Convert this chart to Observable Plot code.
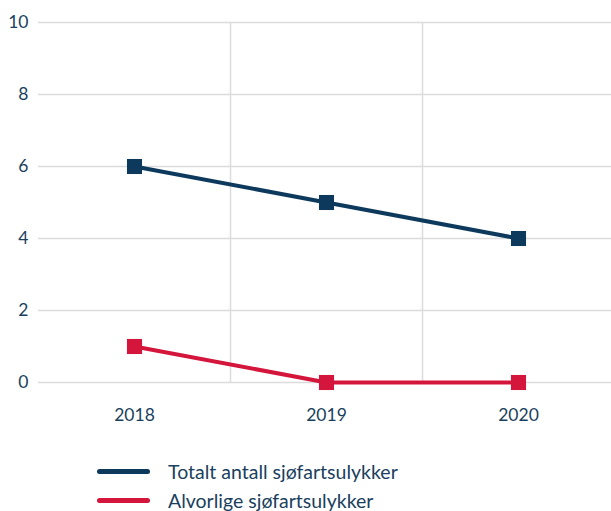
<!DOCTYPE html>
<html>
<head>
<meta charset="utf-8">
<script src="https://cdn.jsdelivr.net/npm/d3@7"></script>
<script src="https://cdn.jsdelivr.net/npm/@observablehq/plot@0.6"></script>
<style>
  html, body { margin: 0; padding: 0; background: #fff; overflow: hidden; }
  body { width: 611px; height: 511px; font-family: Lato, "Noto Sans", sans-serif; }
  #legend { position: absolute; left: 97px; top: 457px; color: #1b3f5e; font-size: 19.5px; }
  .item { display: flex; align-items: center; height: 29px; }
  .swatch { width: 53px; height: 5px; border-radius: 3px; margin-right: 18px; }
</style>
</head>
<body>
<div id="chart"></div>
<div id="legend"></div>
<script>
const years = [2018, 2019, 2020];
const totalt = [6, 5, 4];
const alvorlige = [1, 0, 0];
const seriesNames = ["Totalt antall sjøfartsulykker", "Alvorlige sjøfartsulykker"];
const seriesColors = ["#0d3a5c", "#d4163c"];
const yTicks = [0, 2, 4, 6, 8, 10];

const data = [];
years.forEach((y, i) => {
  data.push({year: y, value: totalt[i], series: seriesNames[0]});
  data.push({year: y, value: alvorlige[i], series: seriesNames[1]});
});
const dividers = years.slice(0, -1).map((y, i) => (y + years[i + 1]) / 2);

const textColor = "#1b3f5e";
const gridColor = "#dcdcdc";

const chart = Plot.plot({
  width: 611,
  height: 445,
  marginLeft: 38,
  marginRight: -3,
  marginTop: 22,
  marginBottom: 63,
  style: { fontFamily: "Lato, 'Noto Sans', sans-serif", fontSize: "17px", color: textColor, background: "#fff" },
  x: { domain: [years[0] - 0.5, years[years.length - 1] + 0.5] },
  y: { domain: [0, 10] },
  color: { domain: seriesNames, range: seriesColors },
  marks: [
    Plot.ruleY(yTicks, { stroke: gridColor, strokeWidth: 1.5 }),
    Plot.ruleX(dividers, { y1: 0, y2: 10, stroke: gridColor, strokeWidth: 1.5 }),
    Plot.axisY(yTicks, { tickSize: 0, tickPadding: 10, fontSize: 17.5, fill: textColor, label: null }),
    Plot.axisX(years, { tickSize: 0, tickPadding: 26, fontSize: 17.5, fill: textColor, label: null, tickFormat: d => String(d) }),
    Plot.line(data, { x: "year", y: "value", stroke: "series", z: "series", strokeWidth: 4 }),
    Plot.dot(data, { x: "year", y: "value", fill: "series", symbol: "square", r: 8.5 })
  ]
});
document.getElementById("chart").appendChild(chart);

const legend = document.getElementById("legend");
seriesNames.forEach((name, i) => {
  const item = document.createElement("div");
  item.className = "item";
  const sw = document.createElement("span");
  sw.className = "swatch";
  sw.style.background = seriesColors[i];
  const label = document.createElement("span");
  label.textContent = name;
  item.appendChild(sw);
  item.appendChild(label);
  legend.appendChild(item);
});
</script>
</body>
</html>
